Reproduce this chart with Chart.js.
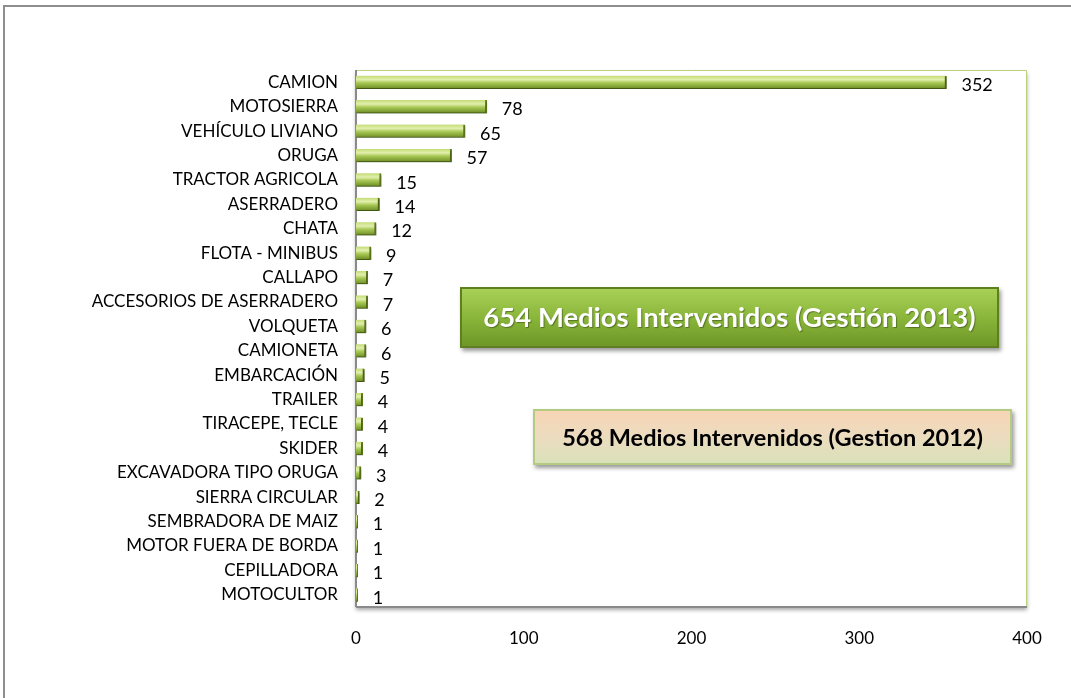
<!DOCTYPE html>
<html>
<head>
<meta charset="utf-8">
<script src="https://cdn.jsdelivr.net/npm/chart.js@4.4.1/dist/chart.umd.min.js"></script>
<style>
  html, body { margin: 0; padding: 0; background: #fff; overflow: hidden; }
  #frame { position: absolute; left: 3px; top: 5px; width: 1100px; height: 720px;
           border-left: 2px solid #8e8e8e; border-top: 2px solid #8e8e8e; }
  #wrap { position: absolute; left: 0; top: 0; width: 1071px; height: 698px; }
</style>
</head>
<body>
<div id="frame"></div>
<div id="wrap"><canvas id="chart" width="1071" height="698"></canvas></div>
<script>
// categorias y valores
const categorias = ['CAMION', 'MOTOSIERRA', 'VEHÍCULO LIVIANO', 'ORUGA', 'TRACTOR AGRICOLA',
  'ASERRADERO', 'CHATA', 'FLOTA - MINIBUS', 'CALLAPO', 'ACCESORIOS DE ASERRADERO',
  'VOLQUETA', 'CAMIONETA', 'EMBARCACIÓN', 'TRAILER', 'TIRACEPE, TECLE', 'SKIDER',
  'EXCAVADORA TIPO ORUGA', 'SIERRA CIRCULAR', 'SEMBRADORA DE MAIZ', 'MOTOR FUERA DE BORDA',
  'CEPILLADORA', 'MOTOCULTOR'];
const medios = [352, 78, 65, 57, 15, 14, 12, 9, 7, 7, 6, 6, 5, 4, 4, 4, 3, 2, 1, 1, 1, 1];
const ticksX = [0, 100, 200, 300, 400];

const FUENTE = 'Lato, "Liberation Sans", sans-serif';
const BAR_H = 13;

const cuadros = [
  { texto: '654 Medios Intervenidos (Gestión 2013)', x: 460, y: 287, w: 539, h: 61,
    fondo: ['#aad25a', '#8ab63a', '#6c9526'], color: '#ffffff', tam: 27.5, borde: '#5f8020' },
  { texto: '568 Medios Intervenidos (Gestion 2012)', x: 533, y: 409, w: 479, h: 56,
    fondo: ['#f8d4b5', '#ecdcbf', '#d8e2ba'], color: '#000000', tam: 23.5, borde: '#b4cc82' }
];

// degradado verde de cada barra
function colorBarra(context) {
  const chart = context.chart;
  const y = chart.scales.y;
  if (!y || context.dataIndex === undefined) return '#9cc04a';
  const cy = y.getPixelForTick(context.dataIndex);
  const g = chart.ctx.createLinearGradient(0, cy - BAR_H / 2, 0, cy + BAR_H / 2);
  g.addColorStop(0, '#c3dc74');
  g.addColorStop(0.3, '#e2efae');
  g.addColorStop(0.55, '#a8c855');
  g.addColorStop(1, '#6c8c24');
  return g;
}

const sombraBarras = {
  id: 'sombraBarras',
  beforeDatasetsDraw(chart) {
    const ctx = chart.ctx;
    ctx.save();
    ctx.shadowColor = 'rgba(0,0,0,0.35)';
    ctx.shadowOffsetX = 1;
    ctx.shadowOffsetY = 2;
    ctx.shadowBlur = 2;
  },
  afterDatasetsDraw(chart) {
    chart.ctx.restore();
  }
};

const etiquetas = {
  id: 'etiquetas',
  afterDatasetsDraw(chart) {
    const ctx = chart.ctx;
    const meta = chart.getDatasetMeta(0);
    ctx.save();
    ctx.font = '18px ' + FUENTE;
    ctx.fillStyle = '#000';
    ctx.textBaseline = 'middle';
    ctx.textAlign = 'left';
    meta.data.forEach((bar, i) => {
      ctx.fillText(String(medios[i]), bar.x + 15, bar.y + 3);
    });
    ctx.restore();
  }
};

// marco del area de trazado
const marco = {
  id: 'marco',
  beforeDatasetsDraw(chart) {
    const { left, right, top, bottom } = chart.chartArea;
    const ctx = chart.ctx;
    ctx.save();
    ctx.shadowColor = 'rgba(0,0,0,0.35)';
    ctx.shadowOffsetY = 3;
    ctx.shadowOffsetX = 0;
    ctx.shadowBlur = 4;
    ctx.fillStyle = '#fff';
    ctx.fillRect(left, top, right - left, bottom - top);
    ctx.restore();
    ctx.save();
    ctx.strokeStyle = '#b9d27e';
    ctx.lineWidth = 1;
    ctx.beginPath();
    ctx.moveTo(left, top + 0.5);
    ctx.lineTo(right - 0.5, top + 0.5);
    ctx.lineTo(right - 0.5, bottom);
    ctx.stroke();
    ctx.strokeStyle = '#8a8a8a';
    ctx.lineWidth = 2;
    ctx.beginPath();
    ctx.moveTo(left, bottom);
    ctx.lineTo(right, bottom);
    ctx.stroke();
    ctx.beginPath();
    ctx.moveTo(left, top);
    ctx.lineTo(left, bottom);
    ctx.stroke();
    ctx.restore();
  }
};

const rotulos = {
  id: 'rotulos',
  afterDraw(chart) {
    const ctx = chart.ctx;
    cuadros.forEach(c => {
      ctx.save();
      const g = ctx.createLinearGradient(0, c.y, 0, c.y + c.h);
      g.addColorStop(0, c.fondo[0]);
      g.addColorStop(0.5, c.fondo[1]);
      g.addColorStop(1, c.fondo[2]);
      ctx.shadowColor = 'rgba(0,0,0,0.4)';
      ctx.shadowOffsetX = 2;
      ctx.shadowOffsetY = 3;
      ctx.shadowBlur = 4;
      ctx.fillStyle = g;
      ctx.fillRect(c.x, c.y, c.w, c.h);
      ctx.shadowColor = 'transparent';
      ctx.strokeStyle = c.borde;
      ctx.lineWidth = 2;
      ctx.strokeRect(c.x + 1, c.y + 1, c.w - 2, c.h - 2);
      ctx.font = 'bold ' + c.tam + 'px ' + FUENTE;
      ctx.fillStyle = c.color;
      ctx.textAlign = 'center';
      ctx.textBaseline = 'middle';
      if (c.color === '#ffffff') {
        ctx.shadowColor = 'rgba(0,0,0,0.35)';
        ctx.shadowOffsetX = 1;
        ctx.shadowOffsetY = 1;
        ctx.shadowBlur = 1;
      }
      ctx.fillText(c.texto, c.x + c.w / 2, c.y + c.h / 2 + 1);
      ctx.restore();
    });
  }
};

new Chart(document.getElementById('chart'), {
  type: 'bar',
  data: {
    labels: categorias,
    datasets: [{
      data: medios,
      backgroundColor: colorBarra,
      borderColor: '#62801e',
      borderWidth: { top: 0, right: 2, bottom: 1, left: 0 },
      borderSkipped: 'left',
      barThickness: BAR_H
    }]
  },
  options: {
    indexAxis: 'y',
    responsive: false,
    animation: false,
    layout: { padding: { top: 70, right: 44, left: 0, bottom: 0 } },
    plugins: { legend: { display: false }, tooltip: { enabled: false } },
    scales: {
      x: {
        min: 0, max: 400,
        afterBuildTicks: s => { s.ticks = ticksX.map(v => ({ value: v })); },
        afterFit: s => { s.height = 91; },
        grid: { display: false, drawTicks: false },
        border: { display: false },
        ticks: { color: '#000', padding: 21, font: { family: FUENTE, size: 17 } }
      },
      y: {
        afterFit: s => { s.width = 356; },
        grid: { display: false, drawTicks: false },
        border: { display: false },
        ticks: { color: '#000', padding: 18, autoSkip: false, font: { family: FUENTE, size: 17 } }
      }
    }
  },
  plugins: [marco, sombraBarras, etiquetas, rotulos]
});
</script>
</body>
</html>
